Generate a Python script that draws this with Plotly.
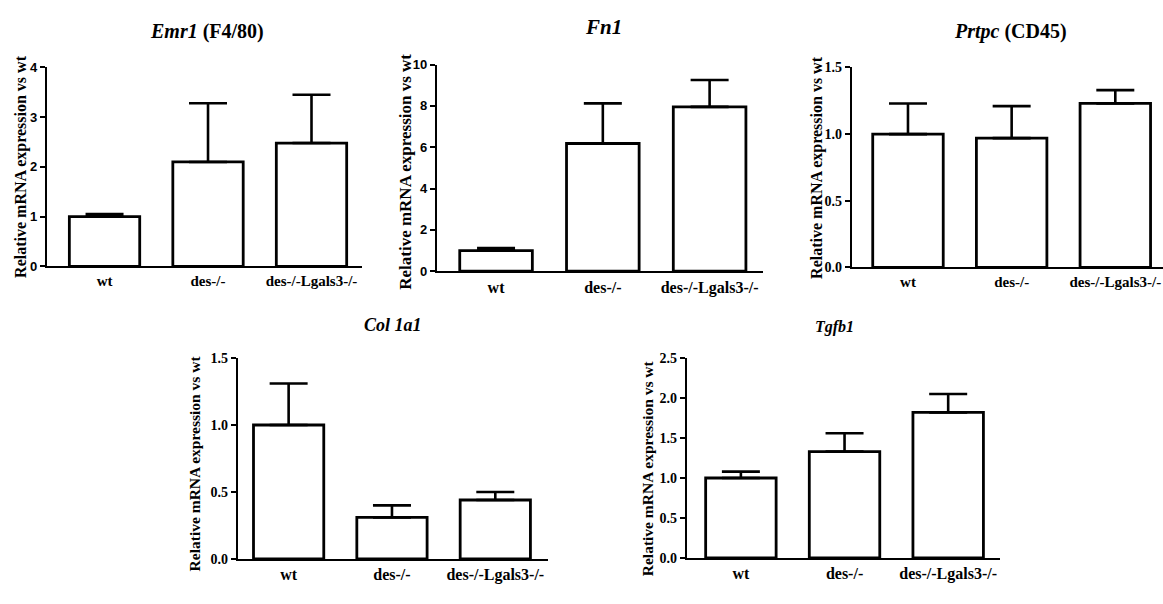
import plotly.graph_objects as go

W, H = 1163, 604

categories = ["wt", "des-/-", "des-/-Lgals3-/-"]

# values (mean) and upper error-bar ends
emr1_mean = [1.0, 2.1, 2.48]
emr1_top = [1.05, 3.28, 3.45]
fn1_mean = [1.0, 6.18, 7.95]
fn1_top = [1.12, 8.12, 9.25]
prtpc_mean = [1.0, 0.97, 1.23]
prtpc_top = [1.23, 1.21, 1.33]
col1a1_mean = [1.0, 0.31, 0.44]
col1a1_top = [1.31, 0.40, 0.50]
tgfb1_mean = [1.0, 1.33, 1.82]
tgfb1_top = [1.08, 1.56, 2.05]

emr1_ticks = [0, 1, 2, 3, 4]
emr1_ticklabels = ["0", "1", "2", "3", "4"]
fn1_ticks = [0, 2, 4, 6, 8, 10]
fn1_ticklabels = ["0", "2", "4", "6", "8", "10"]
prtpc_ticks = [0, 0.5, 1.0, 1.5]
prtpc_ticklabels = ["0.0", "0.5", "1.0", "1.5"]
col1a1_ticks = [0, 0.5, 1.0, 1.5]
col1a1_ticklabels = ["0.0", "0.5", "1.0", "1.5"]
tgfb1_ticks = [0, 0.5, 1.0, 1.5, 2.0, 2.5]
tgfb1_ticklabels = ["0.0", "0.5", "1.0", "1.5", "2.0", "2.5"]

titles = ["<b><i>Emr1</i> (F4/80)</b>", "<b><i>Fn1</i></b>", "<b><i>Prtpc</i> (CD45)</b>",
          "<b><i>Col 1a1</i></b>", "<b><i>Tgfb1</i></b>"]
ylabel = "Relative mRNA expression vs wt"

SERIF = "Liberation Serif, Times New Roman, serif"
SANS = "Liberation Sans, Arial, sans-serif"

panels = [
    dict(mean=emr1_mean, top=emr1_top, ticks=emr1_ticks, tl=emr1_ticklabels,
         xpx=(47, 362), ypx=(62, 266), xr=(-0.556, 2.488), tf=SANS, tfs=13,
         xfs=15, tpos=(207, 25), tsz=20, lpos=(21, 164), lsz=16),
    dict(mean=fn1_mean, top=fn1_top, ticks=fn1_ticks, tl=fn1_ticklabels,
         xpx=(437, 763), ypx=(59, 271), xr=(-0.553, 2.5), tf=SANS, tfs=13,
         xfs=16, tpos=(603, 21), tsz=21, lpos=(406, 169), lsz=17),
    dict(mean=prtpc_mean, top=prtpc_top, ticks=prtpc_ticks, tl=prtpc_ticklabels,
         xpx=(852, 1163), ypx=(62, 267), xr=(-0.54, 2.46), tf=SERIF, tfs=14,
         xfs=15, tpos=(1010, 25), tsz=20, lpos=(817, 165), lsz=16),
    dict(mean=col1a1_mean, top=col1a1_top, ticks=col1a1_ticks, tl=col1a1_ticklabels,
         xpx=(238, 548), ypx=(360, 566), xr=(-0.49, 2.51), tf=SERIF, tfs=14,
         xfs=16, tpos=(393, 326), tsz=18, lpos=(194, 468), lsz=15.5),
    dict(mean=tgfb1_mean, top=tgfb1_top, ticks=tgfb1_ticks, tl=tgfb1_ticklabels,
         xpx=(687, 1000), ypx=(360, 565), xr=(-0.52, 2.5), tf=SERIF, tfs=14,
         xfs=16, tpos=(834, 328), tsz=16, lpos=(647, 473), lsz=15.5),
]

fig = go.Figure()
annotations = []
for i, p in enumerate(panels, start=1):
    xa = "x" if i == 1 else f"x{i}"
    ya = "y" if i == 1 else f"y{i}"
    plus = [t - m for t, m in zip(p["top"], p["mean"])]
    fig.add_trace(go.Bar(
        x=categories, y=p["mean"], xaxis=xa, yaxis=ya, width=0.68,
        marker=dict(color="white", line=dict(color="black", width=2.8)),
        error_y=dict(type="data", symmetric=False, array=plus,
                     arrayminus=[0, 0, 0], color="black", thickness=2.6, width=19),
        showlegend=False, hoverinfo="skip",
    ))
    xd = [p["xpx"][0] / W, min(p["xpx"][1] / W, 1.0)]
    yd = [1 - p["ypx"][1] / H, 1 - p["ypx"][0] / H]
    key_x = "xaxis" if i == 1 else f"xaxis{i}"
    key_y = "yaxis" if i == 1 else f"yaxis{i}"
    fig.layout[key_x] = dict(
        domain=xd, anchor=ya, range=list(p["xr"]), showgrid=False, zeroline=False,
        showline=True, linecolor="black", linewidth=2.2,
        ticks="", ticklen=0,
        tickfont=dict(family=SERIF, size=p["xfs"], color="black", weight="bold"),
        fixedrange=True,
    )
    fig.layout[key_y] = dict(
        domain=yd, anchor=xa, range=[0, p["ticks"][-1]], showgrid=False, zeroline=False,
        showline=True, linecolor="black", linewidth=2.2,
        ticks="outside", ticklen=5, tickwidth=2, tickcolor="black",
        tickvals=p["ticks"], ticktext=p["tl"],
        tickfont=dict(family=p["tf"], size=p["tfs"], color="black", weight="bold"),
        fixedrange=True,
    )
    annotations.append(dict(
        text=titles[i - 1], xref="paper", yref="paper",
        x=p["tpos"][0] / W, y=1 - p["tpos"][1] / H, showarrow=False,
        xanchor="center", yanchor="middle",
        font=dict(family=SERIF, size=p["tsz"], color="black"),
    ))
    annotations.append(dict(
        text="<b>" + ylabel + "</b>", xref="paper", yref="paper",
        x=p["lpos"][0] / W, y=1 - p["lpos"][1] / H, showarrow=False,
        xanchor="center", yanchor="middle", textangle=-90,
        font=dict(family=SERIF, size=p["lsz"], color="black"),
    ))

fig.update_layout(
    width=W, height=H, margin=dict(l=0, r=0, t=0, b=0),
    paper_bgcolor="white", plot_bgcolor="white",
    annotations=annotations, bargap=0.3,
)

page_fix = (
    "document.documentElement.style.margin='0px';"
    "document.documentElement.style.overflow='hidden';"
    "document.body.style.margin='0px';"
    "document.body.style.overflow='hidden';"
    "var gd=document.getElementById('{plot_id}');"
    "gd.style.position='fixed';gd.style.top='0px';gd.style.left='0px';"
)

fig.write_html("out.html", config={"displayModeBar": False}, post_script=page_fix)
